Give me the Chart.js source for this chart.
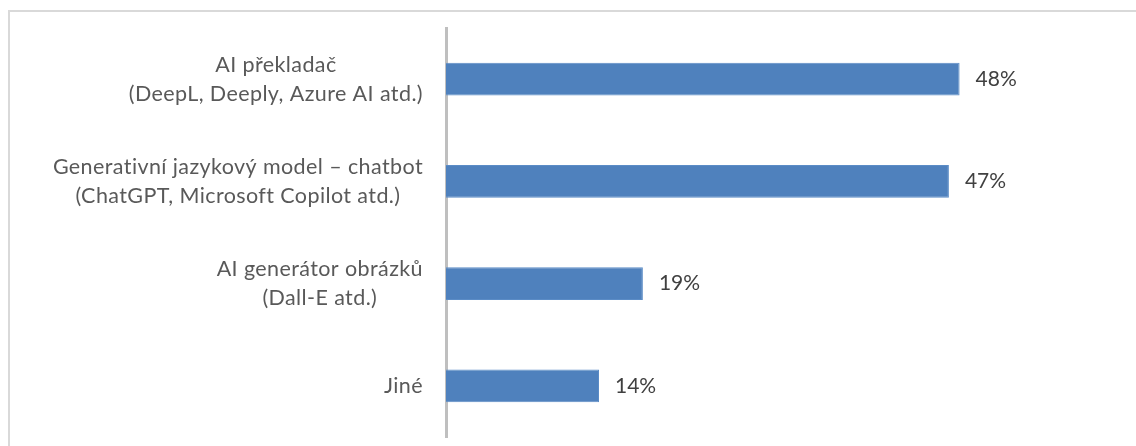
<!DOCTYPE html>
<html>
<head>
<meta charset="utf-8">
<script src="https://cdn.jsdelivr.net/npm/chart.js@4/dist/chart.umd.min.js"></script>
<style>
  html, body { margin: 0; padding: 0; background: #fff; }
  #wrap { width: 1136px; height: 446px; position: relative; }
</style>
</head>
<body>
<div id="wrap"><canvas id="chart" width="1136" height="446"></canvas></div>
<script>
// data
const categories = [
  ["AI překladač", "(DeepL, Deeply, Azure AI atd.)"],
  ["Generativní jazykový model – chatbot", "(ChatGPT, Microsoft Copilot atd.)"],
  ["AI generátor obrázků", "(Dall-E atd.)"],
  ["Jiné"]
];
const shares = [48, 47, 18.4, 14.3];
const shareLabels = ["48%", "47%", "19%", "14%"];

const FONT = "Lato, 'Open Sans', sans-serif";

// outer frame (only top and left edges are visible in the crop)
const framePlugin = {
  id: "frame",
  beforeDraw(chart) {
    const ctx = chart.ctx;
    ctx.save();
    ctx.strokeStyle = "#d9d9d9";
    ctx.lineWidth = 2;
    ctx.beginPath();
    ctx.moveTo(9, 460);
    ctx.lineTo(9, 11);
    ctx.lineTo(1150, 11);
    ctx.stroke();
    ctx.restore();
  }
};

// category labels: lines centered on each other, block right-aligned
const catLabelPlugin = {
  id: "catLabels",
  afterDraw(chart) {
    const ctx = chart.ctx;
    const yScale = chart.scales.y;
    const rightEdge = 423;
    const lineH = 29;
    ctx.save();
    ctx.font = "21.5px " + FONT;
    ctx.letterSpacing = "0.4px"; // also stops the Lato "ti" ligature
    ctx.fillStyle = "#595959";
    ctx.textBaseline = "middle";
    ctx.textAlign = "center";
    categories.forEach((lines, i) => {
      const yc = yScale.getPixelForValue(i);
      const widest = Math.max(...lines.map(l => ctx.measureText(l).width));
      const xc = rightEdge - widest / 2;
      const top = yc - (lines.length - 1) * lineH / 2;
      lines.forEach((l, k) => ctx.fillText(l, xc, top + k * lineH));
    });
    ctx.restore();
  }
};

// value labels to the right of each bar
const valueLabelPlugin = {
  id: "valueLabels",
  afterDatasetsDraw(chart) {
    const ctx = chart.ctx;
    const meta = chart.getDatasetMeta(0);
    ctx.save();
    ctx.font = "21px " + FONT;
    ctx.fillStyle = "#404040";
    ctx.textBaseline = "middle";
    ctx.textAlign = "left";
    meta.data.forEach((bar, i) => {
      ctx.fillText(shareLabels[i], bar.x + 16, bar.y);
    });
    ctx.restore();
  }
};

new Chart(document.getElementById("chart"), {
  type: "bar",
  data: {
    labels: categories,
    datasets: [{
      data: shares,
      backgroundColor: "#4f81bd",
      borderColor: "#5b8cc6",
      borderWidth: 1,
      barPercentage: 0.32,
      categoryPercentage: 1
    }]
  },
  options: {
    indexAxis: "y",
    responsive: false,
    animation: false,
    layout: { padding: { top: 28, bottom: 9, right: 48, left: 0 } },
    plugins: {
      legend: { display: false },
      tooltip: { enabled: false }
    },
    scales: {
      x: {
        display: false,
        min: 0,
        max: 60
      },
      y: {
        z: 1,
        grid: { display: false },
        border: { display: true, color: "#bfbfbf", width: 3 },
        ticks: { display: false },
        afterFit(scale) { scale.width = 446; }
      }
    }
  },
  plugins: [framePlugin, catLabelPlugin, valueLabelPlugin]
});
</script>
</body>
</html>
